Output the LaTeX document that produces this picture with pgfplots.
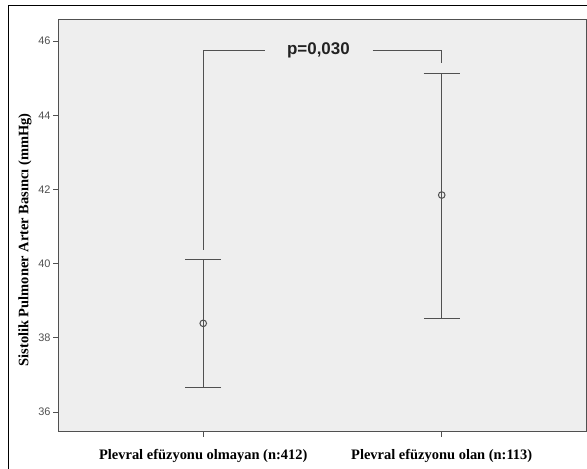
\documentclass[border=0pt]{standalone}
\usepackage{pgfplots}
\pgfplotsset{compat=1.18}
\usepackage{fontspec}
\setmainfont{Liberation Serif}
\newfontfamily\arial{Liberation Sans}
\definecolor{bg}{RGB}{238,238,238}
\definecolor{ln}{RGB}{80,80,80}
\pgfplotstableread{
x y ep em
0 38.39 1.73 1.72
1 41.85 3.29 3.34
}\means
\begin{document}
\begin{tikzpicture}[x=1bp,y=1bp]
\useasboundingbox (0,0) rectangle (587,469);
\draw[black, line width=1bp] (8,0) -- (8,463) -- (587,463);
\begin{axis}[at={(58bp,37bp)}, anchor=south west, scale only axis,
  width=528bp, height=412bp,
  xmin=-0.609, xmax=1.605, ymin=35.46, ymax=46.57,
  xtick={0,1},
  xticklabels={Plevral efüzyonu olmayan (n:412), Plevral efüzyonu olan (n:113)},
  ytick={36,38,40,42,44,46},
  tick align=outside, major tick length=5bp,
  xtick pos=bottom, ytick pos=left,
  axis line style={ln, line width=1bp},
  tick style={ln, line width=0.8bp},
  axis background/.style={fill=bg},
  xticklabel style={font=\bfseries\fontsize{14.5}{16}\selectfont, text=black, yshift=-9bp},
  yticklabel style={font=\arial\fontsize{11}{13}\selectfont, text=ln, xshift=1bp},
  /pgf/number format/assume math mode=true,
  ylabel={Sistolik Pulmoner Arter Basıncı (mmHg)},
  ylabel style={font=\bfseries\fontsize{14.5}{16}\selectfont, at={(axis description cs:-0.0625,0.466)}, anchor=center},
  clip=false]
\addplot[ln, line width=1bp, only marks, mark=o, mark size=3.3bp,
  error bars/.cd, y dir=both, y explicit, error mark=|,
  error bar style={ln, line width=1bp},
  error mark options={ln, line width=1bp, mark size=18bp}]
  table[x=x, y=y, y error plus=ep, y error minus=em] {\means};
\addplot[ln, line width=1bp, no marks] coordinates {(0,40.37) (0,45.76) (0.26,45.76)};
\addplot[ln, line width=1bp, no marks] coordinates {(0.71,45.76) (1,45.76) (1,45.40)};
\node[font=\arial\bfseries\fontsize{17}{20}\selectfont, text={rgb,255:red,34;green,34;blue,34}] at (axis cs:0.483,45.76) {p=0,030};
\end{axis}
\end{tikzpicture}
\end{document}
